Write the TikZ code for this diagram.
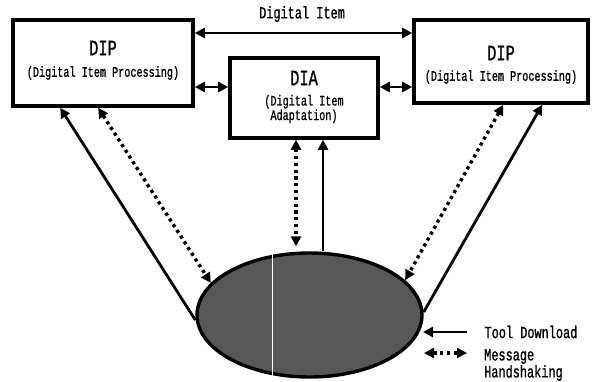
\documentclass[tikz,border=0pt]{standalone}
\usepackage{fontspec}
\usetikzlibrary{arrows.meta,shapes.geometric,calc}
\newfontfamily\kfont[FakeStretch=0.7,FakeBold=1]{Liberation Mono}
\begin{document}
\begin{tikzpicture}[x=1pt,y=-1pt,
  box/.style={draw,line width=3.6pt,inner sep=0pt},
  solidarr/.style={line width=2.8pt,-{Triangle[length=10pt,width=10pt]}},
  dblarr/.style={line width=2.8pt,{Triangle[length=10pt,width=10pt]}-{Triangle[length=10pt,width=10pt]}},
  dotarr/.style={line width=3.4pt,dash pattern=on 3.2pt off 3.6pt,{Triangle[length=10pt,width=10pt]}-{Triangle[length=10pt,width=10pt]}},
  title/.style={font=\kfont\fontsize{22}{22}\selectfont},
  sub/.style={font=\kfont\fontsize{14.5}{13}\selectfont},
  lbl/.style={font=\kfont\fontsize{17}{17}\selectfont}
]
\useasboundingbox (0,0) rectangle (597,381);
% boxes
\node[box,minimum width=180pt,minimum height=86pt] (dipL) at (103,63) {};
\node[box,minimum width=174pt,minimum height=83pt] (dipR) at (501,61.5) {};
\node[box,minimum width=148pt,minimum height=80pt] (dia) at (304,98) {};
\node[title] (tL) at (103,48) {DIP};
\node[sub] (sL) at (103,73) {(Digital Item Processing)};
\node[title] (tR) at (501,53) {DIP};
\node[sub] (sR) at (501,77) {(Digital Item Processing)};
\node[title] (tD) at (304,78) {DIA};
\node[sub,align=center] (sD) at (304,109) {(Digital Item\\Adaptation)};
\node[lbl] (di) at (302,14) {Digital Item};
% ellipse
\node[ellipse,draw,line width=3.4pt,fill=black!66,minimum width=225pt,minimum height=124pt,inner sep=0pt] (ell) at (309.5,315) {};
\draw[white,line width=1pt] ([xshift=-37.5pt,yshift=-2pt]ell.north) -- ([xshift=-37.5pt,yshift=3pt]ell.south);
% top connectors
\draw[dblarr] ([yshift=30pt]dipL.east) -- ([yshift=28.5pt]dipR.west);
\draw[dblarr] ([yshift=-24pt]dipL.east) -- ([yshift=11pt]dia.west);
\draw[dblarr] ([yshift=11pt]dia.east) -- ([yshift=-25.5pt]dipR.west);
% left
\draw[solidarr] ([yshift=-5pt]ell.west) -- ([xshift=49pt]dipL.south west);
\draw[dotarr] ([xshift=87pt]dipL.south west) -- (ell.162);
% middle
\draw[dotarr] ([xshift=-8pt]dia.south) -- ([xshift=-13.5pt,yshift=5pt]ell.north);
\draw[solidarr] ([xshift=13.5pt]ell.north) -- ([xshift=19pt]dia.south);
% right
\draw[solidarr] ([yshift=3pt]ell.east) -- ([xshift=130pt]dipR.south west);
\draw[dotarr] ([xshift=91pt]dipR.south west) -- (ell.20);
% legend
\coordinate (l1a) at (467,332);
\coordinate (l1b) at (423,332);
\coordinate (l2a) at (424,353);
\coordinate (l2b) at (467,353);
\draw[solidarr] (l1a) -- (l1b);
\draw[dotarr] (l2a) -- (l2b);
\node[lbl,anchor=west] (tool) at (481,332) {Tool Download};
\node[lbl,anchor=north west,align=left,inner sep=0pt] (msg) at (484,349) {Message\\Handshaking};
\end{tikzpicture}
\end{document}
